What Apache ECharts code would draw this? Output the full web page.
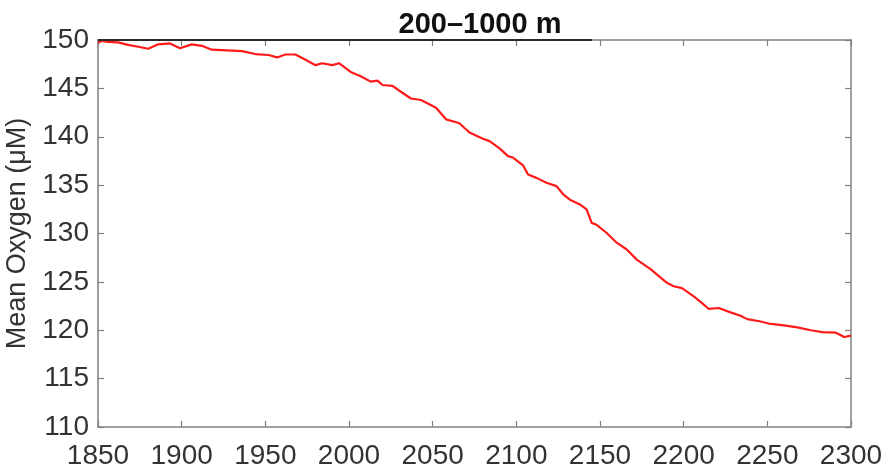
<!DOCTYPE html>
<html>
<head>
<meta charset="utf-8">
<script src="https://cdn.jsdelivr.net/npm/echarts@6/dist/echarts.min.js"></script>
<style>html,body{margin:0;padding:0;background:#fff}#c{width:884px;height:472px}</style>
</head>
<body>
<div id="c"></div>
<script>
const titleText = '200\u20131000 m';
const yName = 'Mean Oxygen (\u03bcM)';
const years = [1850,1852,1856,1862,1868,1874,1880,1886,1893,1899,1906,1912,1918,1924,1930,1936,1944,1952,1957,1962,1968,1974,1980,1984,1990,1994,2001,2007,2013,2017,2020,2026,2031,2037,2043,2048,2052,2058,2062,2066,2069,2072,2080,2084,2090,2095,2098,2104,2107,2112,2118,2124,2128,2132,2138,2142,2145,2148,2154,2160,2166,2172,2180,2190,2194,2199,2206,2211,2215,2221,2228,2234,2238,2246,2252,2260,2268,2276,2283,2291,2296,2300];
const oxygen = [149.7,149.9,149.8,149.75,149.5,149.3,149.1,149.55,149.65,149.15,149.55,149.4,149.0,148.95,148.9,148.85,148.55,148.45,148.2,148.5,148.5,147.95,147.4,147.6,147.4,147.6,146.7,146.25,145.7,145.8,145.35,145.25,144.65,143.95,143.8,143.35,143.0,141.8,141.6,141.4,140.9,140.45,139.8,139.55,138.8,138.0,137.85,137.05,136.1,135.75,135.25,134.9,134.05,133.5,133.0,132.5,131.1,130.9,130.05,129.05,128.35,127.3,126.35,124.9,124.55,124.35,123.5,122.8,122.2,122.3,121.85,121.5,121.15,120.9,120.65,120.5,120.3,120.0,119.8,119.75,119.3,119.45];
const xMin = 1850, xMax = 2300, xStep = 50;
const yMin = 110, yMax = 150, yStep = 5;

const data = years.map((y, i) => [y, oxygen[i]]);
const font = 'Liberation Sans, Helvetica, Arial, sans-serif';
const axisColor = '#808080';
const labelColor = '#333333';

const chart = echarts.init(document.getElementById('c'));
chart.setOption({
  animation: false,
  title: {
    text: titleText, left: 475, top: 5, textAlign: 'center',
    textStyle: { fontFamily: font, fontSize: 29, fontWeight: 'bold', color: '#111' }
  },
  grid: { left: 98, right: 33, top: 40, bottom: 45, containLabel: false, outerBoundsMode: 'none' },
  xAxis: [
    { type: 'value', min: xMin, max: xMax, interval: xStep, position: 'bottom',
      axisLine: { show: true, onZero: false, lineStyle: { color: axisColor, width: 1.5 } },
      axisTick: { show: true, inside: true, length: 6, lineStyle: { color: axisColor, width: 1.2 } },
      axisLabel: { fontFamily: font, fontSize: 28, color: labelColor, margin: 15, formatter: v => String(v) },
      splitLine: { show: false } },
    { type: 'value', min: xMin, max: xMax, interval: xStep, position: 'top',
      axisLine: { show: true, onZero: false, lineStyle: { color: axisColor, width: 1.5 } },
      axisTick: { show: true, inside: true, length: 6, lineStyle: { color: axisColor, width: 1.2 } },
      axisLabel: { show: false }, splitLine: { show: false } }
  ],
  yAxis: [
    { type: 'value', min: yMin, max: yMax, interval: yStep, position: 'left',
      name: yName, nameLocation: 'middle', nameGap: 61, nameRotate: 90,
      nameTextStyle: { fontFamily: font, fontSize: 27, color: '#333' },
      axisLine: { show: true, onZero: false, lineStyle: { color: axisColor, width: 1.5 } },
      axisTick: { show: true, inside: true, length: 6, lineStyle: { color: axisColor, width: 1.2 } },
      axisLabel: { fontFamily: font, fontSize: 28, color: labelColor, margin: 9 },
      splitLine: { show: false } },
    { type: 'value', min: yMin, max: yMax, interval: yStep, position: 'right',
      axisLine: { show: true, onZero: false, lineStyle: { color: axisColor, width: 1.5 } },
      axisTick: { show: true, inside: true, length: 6, lineStyle: { color: axisColor, width: 1.2 } },
      axisLabel: { show: false }, splitLine: { show: false } }
  ],
  graphic: [
    { type: 'line', z: 100, shape: { x1: 98, y1: 40, x2: 592, y2: 40 }, style: { stroke: '#2a2a2a', lineWidth: 2 } }
  ],
  series: [{
    type: 'line', data: data, xAxisIndex: 0, yAxisIndex: 0,
    showSymbol: false, smooth: false,
    lineStyle: { color: '#ff1a1a', width: 2.2 }
  }]
});
</script>
</body>
</html>
